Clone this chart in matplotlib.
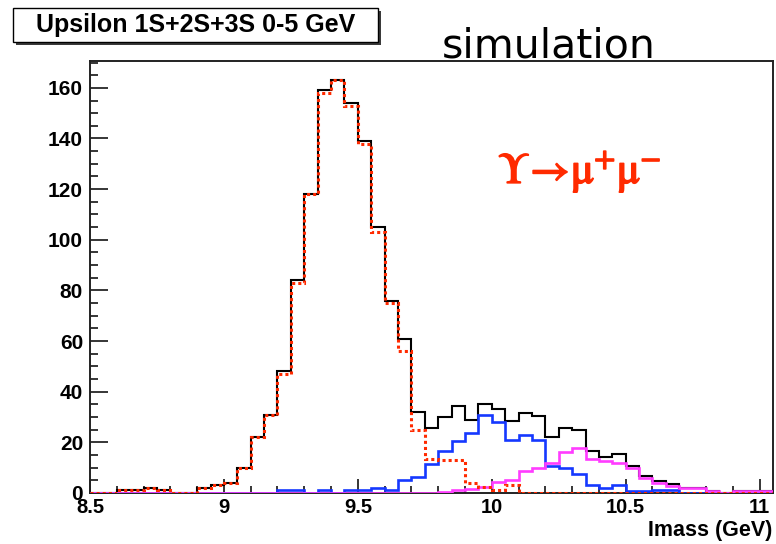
import numpy as np
import matplotlib
matplotlib.use("Agg")
import matplotlib.pyplot as plt
from matplotlib.ticker import MultipleLocator, FixedLocator, FixedFormatter
from matplotlib.patches import Rectangle
import matplotlib.patheffects as pe

# ---------------- data ----------------
bin_edges = np.round(np.linspace(8.50, 11.05, 52), 3)   # 0.05 GeV bins

total = [0, 0, 1, 1, 2, 1, 0, 0, 2, 3,
         4, 10, 22, 31, 48, 84, 118, 159, 163, 154,
         139, 105, 76, 61, 32, 25.5, 30, 34.5, 29, 35,
         33, 28.5, 31.5, 30.5, 22, 25.7, 25, 16.5, 14.2, 15.3,
         10.5, 6.8, 4.8, 3.6, 1.9, 1.9, 0.6, 0, 0.6, 0.6,
         0.6]
ups1s = [0, 0, 1, 1, 2, 1, 0, 0, 2, 3,
         4, 10, 22, 31, 47, 83, 118, 158, 163, 153,
         138, 103, 75, 56, 25, 13.5, 13, 13, 4, 2.5,
         1, 3, 0, 0, 0, 0, 0, 0, 0, 0,
         0, 0, 0, 0, 0, 0, 0, 0, 0, 0,
         0]
ups2s = [0, 0, 0, 0, 0, 0, 0, 0, 0, 0,
         0, 0, 0, 0, 1, 1, 0, 1, 0, 1,
         1, 2, 1, 5, 6.3, 11.5, 16.7, 20.5, 23.5, 31,
         28, 21, 23, 21, 10.5, 10, 7.7, 3.3, 1.8, 3.3,
         0.8, 0.8, 1, 1, 0, 0, 0, 0, 0, 0,
         0]
ups3s = [0, 0, 0, 0, 0, 0, 0, 0, 0, 0,
         0, 0, 0, 0, 0, 0, 0, 0, 0, 0,
         0, 0, 0, 0, 0, 0, 0.5, 1, 1.5, 2.5,
         4.3, 5.2, 8.6, 9.7, 12, 16, 17.7, 13.6, 12.5, 12,
         10, 6, 3.8, 2.6, 1.8, 1.8, 0.6, 0, 0.6, 0.6,
         0.6]

x_major = [8.5, 9, 9.5, 10, 10.5, 11]
x_labels = ["8.5", "9", "9.5", "10", "10.5", "11"]
y_major = [0, 20, 40, 60, 80, 100, 120, 140, 160]
y_labels = ["0", "20", "40", "60", "80", "100", "120", "140", "160"]

title_text = "Upsilon 1S+2S+3S 0-5 GeV"
x_title = "Imass (GeV)"
sim_text = "simulation"
decay_text = r"$\Upsilon\!\rightarrow\!\mathrm{\mu}^{+}\mathrm{\mu}^{\mathrm{-}}$"

# ---------------- figure ----------------
W, H = 776, 544
plt.rcParams["mathtext.fontset"] = "stix"
fig = plt.figure(figsize=(W / 100, H / 100), dpi=100)
fig.patch.set_facecolor("white")


def fx(px):
    return px / W


def fy(py):
    return 1 - py / H


ax = fig.add_axes([fx(90), fy(493), (773 - 90) / W, (493 - 61) / H])
ax.set_xlim(8.5, 11.05)
ax.set_ylim(0, 170.6)

ax.stairs(total, bin_edges, color="black", lw=1.5, zorder=2)
ax.stairs(ups2s, bin_edges, color="#1538ff", lw=1.9, zorder=3)
ax.stairs(ups3s, bin_edges, color="#ff3cff", lw=1.9, zorder=4)
ax.stairs(ups1s, bin_edges, color="#ff2a00", lw=2.2,
          linestyle=(0, (1, 1)), zorder=5)

for s in ax.spines.values():
    s.set_linewidth(1.4)
    s.set_color("#222222")

ax.xaxis.set_major_locator(FixedLocator(x_major))
ax.xaxis.set_major_formatter(FixedFormatter(x_labels))
ax.xaxis.set_minor_locator(MultipleLocator(0.1))
ax.yaxis.set_major_locator(FixedLocator(y_major))
ax.yaxis.set_major_formatter(FixedFormatter(y_labels))
ax.yaxis.set_minor_locator(MultipleLocator(5))

tick_font = dict(family="Liberation Sans", weight="bold")
ax.tick_params(axis="x", which="major", direction="in", length=10, width=1.1,
               pad=3.5, labelsize=14.5)
ax.tick_params(axis="x", which="minor", direction="in", length=5, width=1.1)
ax.tick_params(axis="y", which="major", direction="in", length=13, width=1.1,
               pad=5, labelsize=15)
ax.tick_params(axis="y", which="minor", direction="in", length=6, width=1.1)
for lab in ax.get_xticklabels() + ax.get_yticklabels():
    lab.set_fontfamily("Liberation Sans")
    lab.set_fontweight("bold")

# x axis title at the right end
fig.text(fx(772), fy(536), x_title, ha="right", va="baseline",
         fontsize=15.5, **tick_font)

# title box with shadow
bx0, bx1, by0, by1 = 13, 378, 8, 42
fig.patches.append(Rectangle((fx(bx0 + 3), fy(by1 + 3)), (bx1 - bx0) / W,
                             (by1 - by0) / H, transform=fig.transFigure,
                             facecolor="#3a3a3a", edgecolor="none", zorder=1))
fig.patches.append(Rectangle((fx(bx0), fy(by1)), (bx1 - bx0) / W,
                             (by1 - by0) / H, transform=fig.transFigure,
                             facecolor="white", edgecolor="black", lw=1.0,
                             zorder=2))
fig.text(fx((bx0 + bx1) / 2), fy(25), title_text, ha="center", va="center",
         fontsize=18, zorder=3, **tick_font)

# "simulation"
fig.text(fx(549), fy(58), sim_text, ha="center", va="baseline",
         fontsize=29.5, family="DejaVu Sans", color="black")

# decay label
t = fig.text(fx(498), fy(183), decay_text, ha="left", va="baseline",
             fontsize=31, color="#ff2a00")
t.set_path_effects([pe.withStroke(linewidth=1.2, foreground="#ff2a00")])

fig.savefig("out.png", dpi=100, facecolor="white")
